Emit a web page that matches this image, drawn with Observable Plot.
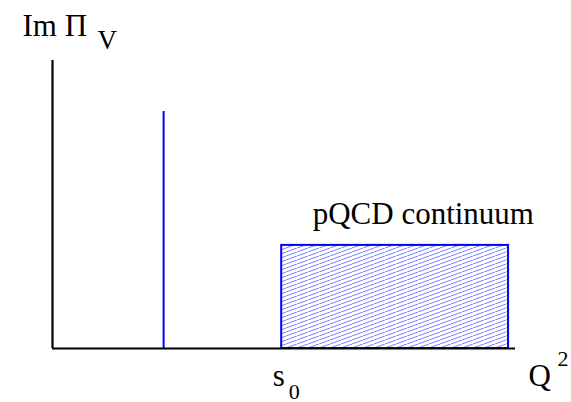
<!DOCTYPE html>
<html>
<head>
<meta charset="utf-8">
<script src="https://cdn.jsdelivr.net/npm/d3@7"></script>
<script src="https://cdn.jsdelivr.net/npm/@observablehq/plot@0.6"></script>
<style>
  html, body { margin: 0; padding: 0; background: #fff; }
  svg { display: block; overflow: visible; background: #fff; }
</style>
</head>
<body>
<div id="chart"></div>
<script>
// Schematic values (arbitrary units)
const axisEnd = 10;          // extent of the Q^2 axis
const axisTop = 1;           // extent of the Im Π axis
const resonanceQ2 = [2.4];   // position of the narrow resonance (delta spike)
const resonanceHeight = [0.823];
const s0 = 4.95;             // continuum threshold
const continuumEnd = 9.85;
const continuumHeight = 0.358;

const continuum = [{x1: s0, x2: continuumEnd, y1: 0, y2: continuumHeight}];
const spikes = resonanceQ2.map((q, i) => ({x: q, h: resonanceHeight[i]}));

const serif = "Liberation Serif";
const blue = "#0000ff";
const big = 31, small = 22;

const chart = Plot.plot({
  width: 571,
  height: 402,
  marginLeft: 52,
  marginRight: 56,
  marginTop: 60,
  marginBottom: 54,
  x: {domain: [0, axisEnd], axis: null},
  y: {domain: [0, axisTop], axis: null},
  marks: [
    Plot.rect(continuum, {x1: "x1", x2: "x2", y1: "y1", y2: "y2", fill: "url(#hatch)", stroke: blue, strokeWidth: 2}),
    Plot.ruleX(spikes, {x: "x", y1: 0, y2: "h", stroke: blue, strokeWidth: 2}),
    Plot.ruleY([0], {x1: 0, x2: axisEnd, stroke: "black", strokeWidth: 2.2}),
    Plot.ruleX([0], {y1: 0, y2: axisTop, stroke: "black", strokeWidth: 2.2}),
    // y-axis label Im Π_V
    Plot.text([0], {x: 0, y: axisTop, text: () => "Im Π", textAnchor: "start", lineAnchor: "bottom", dx: -30, dy: -25, fontSize: big, fontFamily: serif, fill: "black"}),
    Plot.text([0], {x: 0, y: axisTop, text: () => "V", textAnchor: "start", lineAnchor: "bottom", dx: 45, dy: -12, fontSize: 27, fontFamily: serif, fill: "black"}),
    // continuum label
    Plot.text(continuum, {x: "x1", y: "y2", text: () => "pQCD continuum", textAnchor: "start", lineAnchor: "bottom", dx: 31, dy: -21, fontSize: big, fontFamily: serif, fill: "black"}),
    // s_0 label
    Plot.text([s0], {x: d => d, y: 0, text: () => "s", textAnchor: "middle", lineAnchor: "bottom", dx: -3, dy: 37, fontSize: big, fontFamily: serif, fill: "black"}),
    Plot.text([s0], {x: d => d, y: 0, text: () => "0", textAnchor: "start", lineAnchor: "bottom", dx: 7, dy: 50, fontSize: small, fontFamily: serif, fill: "black"}),
    // Q^2 label
    Plot.text([axisEnd], {x: d => d, y: 0, text: () => "Q", textAnchor: "start", lineAnchor: "bottom", dx: 13, dy: 37, fontSize: big, fontFamily: serif, fill: "black"}),
    Plot.text([axisEnd], {x: d => d, y: 0, text: () => "2", textAnchor: "start", lineAnchor: "bottom", dx: 42, dy: 17, fontSize: small, fontFamily: serif, fill: "black"})
  ]
});

const root = d3.select(chart);
// drop Plot's generated class and stylesheet so nothing targets the labels' font
root.attr("class", null);
root.selectAll("style").remove();
root.attr("font-family", serif);
root.selectAll("g").attr("font-family", serif);
root.selectAll("text").attr("font-family", serif);

// hatch pattern definition
const defs = root.insert("defs", ":first-child");
const pat = defs.append("pattern")
  .attr("id", "hatch")
  .attr("patternUnits", "userSpaceOnUse")
  .attr("width", 11)
  .attr("height", 4);
pat.append("rect").attr("width", 11).attr("height", 4).attr("fill", "white");
pat.append("line")
  .attr("x1", 0).attr("y1", 4).attr("x2", 11).attr("y2", 0)
  .attr("stroke", "#7d7dff").attr("stroke-width", 1);

document.getElementById("chart").appendChild(chart);
</script>
</body>
</html>
